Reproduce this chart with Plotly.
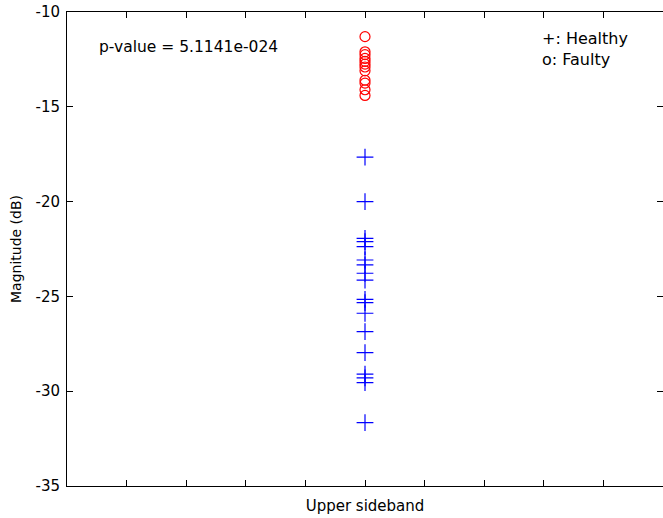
import plotly.graph_objects as go

# Data
healthy = [-17.65, -20.0, -21.94, -22.11, -22.38, -23.08, -23.34, -23.78, -24.14,
           -25.16, -25.33, -25.89, -26.86, -27.97, -29.1, -29.3, -29.55, -31.66]
faulty = [-11.3, -12.1, -12.25, -12.45, -12.6, -12.75, -12.9, -13.1, -13.6, -13.75,
          -14.1, -14.4]
group_x = 0.5
xlabel = "Upper sideband"
ylabel = "Magnitude (dB)"
pvalue_text = "p-value = 5.1141e-024"
legend_lines = ["+: Healthy", "o: Faulty"]
y_ticks = [-35, -30, -25, -20, -15, -10]
y_tick_labels = ["-35", "-30", "-25", "-20", "-15", "-10"]

FONT = "DejaVu Sans, Verdana, sans-serif"

fig = go.Figure()
fig.add_trace(go.Scatter(
    x=[group_x] * len(healthy), y=healthy, mode="markers",
    marker=dict(symbol="cross-thin-open", size=12, color="#0000FF",
                line=dict(color="#0000FF", width=1.2)),
    showlegend=False, hoverinfo="skip"))
fig.add_trace(go.Scatter(
    x=[group_x] * len(faulty), y=faulty, mode="markers",
    marker=dict(symbol="circle-open", size=10, color="#FF0000",
                line=dict(color="#FF0000", width=1.2)),
    showlegend=False, hoverinfo="skip"))
# invisible trace for right-side tick axis
fig.add_trace(go.Scatter(x=[group_x], y=[None], yaxis="y2", mode="markers",
                         showlegend=False, hoverinfo="skip"))

fig.update_layout(
    width=663, height=518,
    margin=dict(l=67, r=0, t=12, b=32),
    paper_bgcolor="white", plot_bgcolor="white",
    font=dict(family=FONT, size=14, color="black"),
    xaxis=dict(range=[0, 1], tickvals=[i / 10 for i in range(1, 10)],
               showticklabels=False, ticks="inside", ticklen=6, tickcolor="black",
               showline=True, linecolor="black", linewidth=1, mirror="ticks",
               showgrid=False, zeroline=False,
               title=dict(text=xlabel, font=dict(size=15), standoff=14)),
    yaxis=dict(range=[-35, -10], tickvals=y_ticks, ticktext=y_tick_labels,
               ticks="inside", ticklen=6,
               tickcolor="black", showline=True, linecolor="black", linewidth=1,
               mirror=False, showgrid=False, zeroline=False, ticklabelstandoff=3,
               tickfont=dict(size=15),
               title=dict(text=ylabel, font=dict(size=14), standoff=10)),
    yaxis2=dict(range=[-35, -10], tickvals=y_ticks, overlaying="y", side="right",
                anchor="x", ticks="inside", ticklen=6, tickcolor="black",
                showticklabels=False, showline=False, showgrid=False, zeroline=False),
)

fig.add_annotation(text=pvalue_text, xref="paper", yref="paper", x=0.05, y=0.926,
                   xanchor="left", yanchor="middle", showarrow=False,
                   font=dict(size=15.5))
fig.add_annotation(text=legend_lines[0], xref="paper", yref="paper", x=0.794, y=0.945,
                   xanchor="left", yanchor="middle", showarrow=False,
                   font=dict(size=16))
fig.add_annotation(text=legend_lines[1], xref="paper", yref="paper", x=0.794, y=0.899,
                   xanchor="left", yanchor="middle", showarrow=False,
                   font=dict(size=16))

fig.write_html("out.html")
